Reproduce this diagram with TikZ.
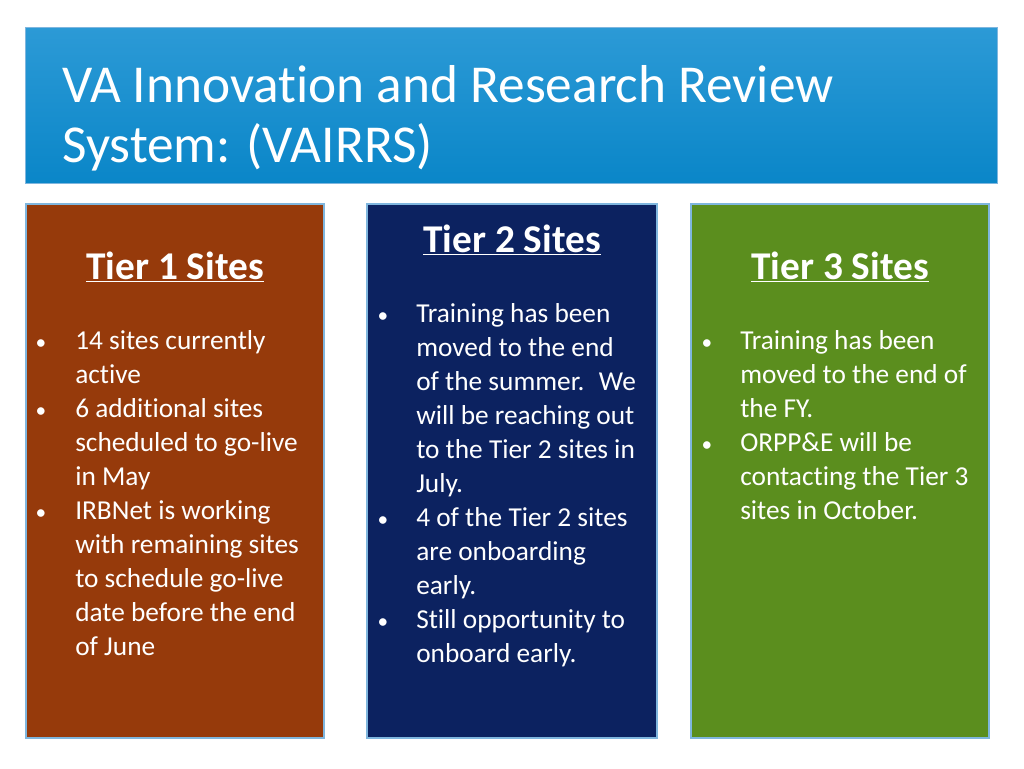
\documentclass[tikz,border=0pt]{standalone}
\usepackage{fontspec}
\setmainfont{Carlito}[Ligatures={NoCommon}]
\definecolor{hdr}{HTML}{0A86C8}
\definecolor{hdrl}{HTML}{2C9AD6}
\definecolor{tone}{HTML}{963A0B}
\definecolor{ttwo}{HTML}{0C2260}
\definecolor{tthree}{HTML}{5B8E1E}
\definecolor{bord}{HTML}{7FB6DE}
\tikzset{panel/.style={draw=bord,line width=0.8pt},
 ln/.style={anchor=base west,text=white,font=\fontsize{20.5}{24}\selectfont,inner sep=0pt},
 bul/.style={anchor=base,text=white,font=\fontsize{16}{20}\selectfont,inner sep=0pt},
 head/.style={anchor=base,text=white,font=\fontsize{29.5}{34}\selectfont\bfseries,inner sep=0pt}}
\begin{document}
\begin{tikzpicture}[x=0.75pt,y=-0.75pt]
\useasboundingbox (0,0) rectangle (1024,768);
\fill[white] (0,0) rectangle (1024,768);
\shade[top color=hdrl,bottom color=hdr,draw=bord] (25,27) rectangle (997,183);
\node[anchor=base west,text=white,font=\fontsize{40}{48}\selectfont,inner sep=0pt] (t1) at (62,102) {VA Innovation and Research Review};
\node[anchor=base west,text=white,font=\fontsize{40}{48}\selectfont,inner sep=0pt] (t2) at (62,162) {System: (VAIRRS)};
\fill[tone,panel] (26,204) rectangle (324,738);
\fill[ttwo,panel] (367,204) rectangle (657,738);
\fill[tthree,panel] (691,204) rectangle (989,738);
\node[head] (h1) at (175,279) {\underline{Tier 1 Sites}};
\node[head] (h2) at (512,252) {\underline{Tier 2 Sites}};
\node[head] (h3) at (840,279) {\underline{Tier 3 Sites}};
\foreach \t [count=\i] in {14 sites currently,active,6 additional sites,scheduled to go-live,in May,IRBNet is working,with remaining sites,to schedule go-live,date before the end,of June}
  \node[ln] (a\i) at (75,{349+34*(\i-1)}) {\t};
\foreach \i in {1,3,6} \node[bul] (ab\i) at (41,{349+34*(\i-1)}) {•};
\foreach \t [count=\i] in {Training has been,moved to the end,of the summer.~ We,will be reaching out,to the Tier 2 sites in,July.,4 of the Tier 2 sites,are onboarding,early.,Still opportunity to,onboard early.}
  \node[ln] (b\i) at (416,{322+34*(\i-1)}) {\t};
\foreach \i in {1,7,10} \node[bul] (bb\i) at (383,{322+34*(\i-1)}) {•};
\foreach \t [count=\i] in {Training has been,moved to the end of,the FY.,ORPP\&E will be,contacting the Tier 3,sites in October.}
  \node[ln] (c\i) at (740,{349+34*(\i-1)}) {\t};
\foreach \i in {1,4} \node[bul] (cb\i) at (707,{349+34*(\i-1)}) {•};
\end{tikzpicture}
\end{document}
